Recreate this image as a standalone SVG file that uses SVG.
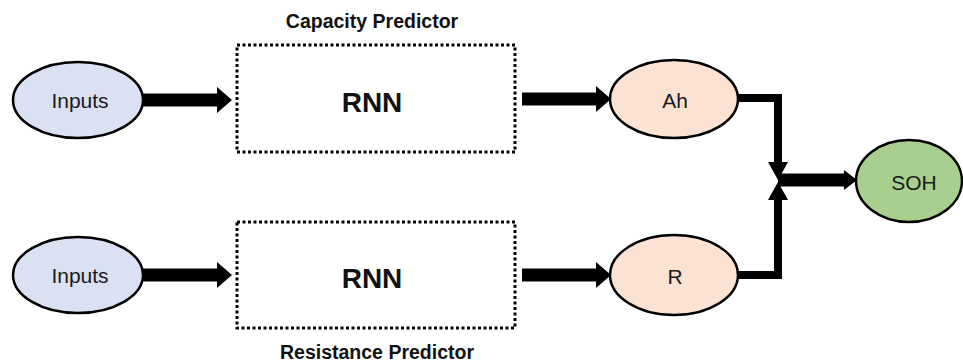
<svg xmlns="http://www.w3.org/2000/svg" width="963" height="362" viewBox="0 0 963 362">
  <style>
    .node { stroke: #000; stroke-width: 2.5; }
    .in { fill: #dae1f3; }
    .out { fill: #fbe2d3; }
    .soh { fill: #a8cf8e; }
    .box { fill: #fff; stroke: #000; stroke-width: 3; stroke-dasharray: 3 2.5; }
    .lbl { font-family: "Liberation Sans", Arial, sans-serif; font-size: 21px; fill: #1a1a1a; text-anchor: middle; dominant-baseline: central; }
    .big { font-family: "Liberation Sans", Arial, sans-serif; font-size: 28px; font-weight: bold; fill: #111; text-anchor: middle; dominant-baseline: central; }
    .title { font-family: "Liberation Sans", Arial, sans-serif; font-size: 19.5px; font-weight: bold; fill: #111; text-anchor: middle; dominant-baseline: central; }
    .thick { stroke: #000; stroke-width: 13; fill: none; }
    .thin { stroke: #000; stroke-width: 8; fill: none; }
    .head { fill: #000; }
  </style>

  <!-- capacity branch -->
  <g id="capacity-predictor">
    <rect class="box" x="237" y="45" width="278" height="107"/>
    <text class="big" x="372" y="102">RNN</text>
    <text class="title" x="372" y="21">Capacity Predictor</text>
  </g>
  <g id="inputs-top">
    <ellipse class="node in" cx="78" cy="100" rx="65" ry="38"/>
    <text class="lbl" x="80" y="100">Inputs</text>
  </g>
  <g id="ah">
    <ellipse class="node out" cx="674" cy="99" rx="64" ry="39"/>
    <text class="lbl" x="675" y="100">Ah</text>
  </g>

  <!-- resistance branch -->
  <g id="resistance-predictor">
    <rect class="box" x="237" y="222" width="278" height="106"/>
    <text class="big" x="372" y="278">RNN</text>
    <text class="title" x="377" y="352">Resistance Predictor</text>
  </g>
  <g id="inputs-bottom">
    <ellipse class="node in" cx="78" cy="275" rx="65" ry="38"/>
    <text class="lbl" x="80" y="275">Inputs</text>
  </g>
  <g id="r">
    <ellipse class="node out" cx="674" cy="275" rx="64" ry="40"/>
    <text class="lbl" x="675" y="276">R</text>
  </g>

  <g id="soh">
    <ellipse class="node soh" cx="909" cy="181" rx="53" ry="41"/>
    <text class="lbl" x="914" y="182">SOH</text>
  </g>

  <g id="connectors">
    <!-- inputs to RNN -->
    <line class="thick" x1="143" y1="100" x2="219" y2="100"/>
    <polygon class="head" points="217,87 232,100 217,113"/>
    <line class="thick" x1="143" y1="275" x2="219" y2="275"/>
    <polygon class="head" points="217,262 232,275 217,288"/>
    <!-- RNN to outputs -->
    <line class="thick" x1="522" y1="99" x2="598" y2="99"/>
    <polygon class="head" points="596,86 611,99 596,112"/>
    <line class="thick" x1="522" y1="275" x2="598" y2="275"/>
    <polygon class="head" points="596,262 611,275 596,288"/>
    <!-- outputs merge -->
    <polyline class="thin" points="738,98 778,98 778,164"/>
    <polygon class="head" points="768,162 788,162 778,180"/>
    <polyline class="thin" points="738,275 778,275 778,198"/>
    <polygon class="head" points="768,200 788,200 778,182"/>
    <!-- to SOH -->
    <line class="thick" x1="778" y1="180" x2="846" y2="180"/>
    <polygon class="head" points="844,170 857,180 844,190"/>
  </g>
</svg>
